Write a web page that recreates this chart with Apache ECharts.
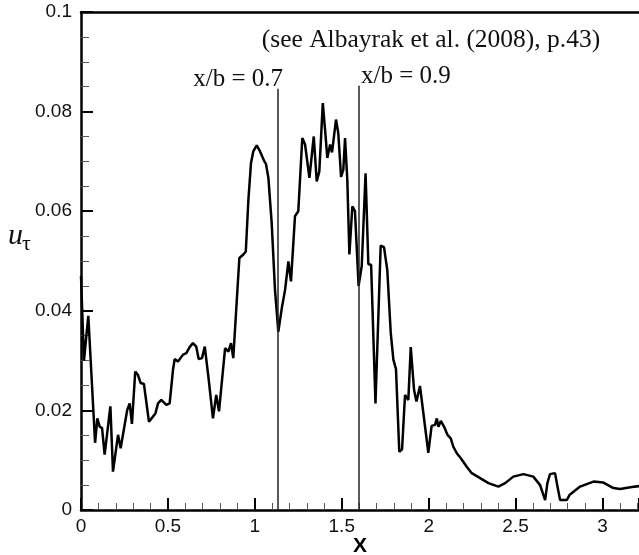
<!DOCTYPE html>
<html>
<head>
<meta charset="utf-8">
<script src="https://cdn.jsdelivr.net/npm/echarts@6/dist/echarts.min.js"></script>
<style>
html, body { margin: 0; padding: 0; background: #fff; }
#main { width: 639px; height: 555px; }
</style>
</head>
<body>
<div id="main"></div>
<script>
// wall shear velocity along the span
var xPos = [0.000, 0.017, 0.042, 0.081, 0.094, 0.108, 0.121, 0.136, 0.169, 0.184,
	0.213, 0.228, 0.266, 0.280, 0.293, 0.312, 0.328, 0.343, 0.362, 0.391,
	0.428, 0.443, 0.462, 0.491, 0.510, 0.529, 0.539, 0.558, 0.587, 0.606,
	0.625, 0.644, 0.663, 0.677, 0.696, 0.712, 0.735, 0.759, 0.778, 0.794,
	0.829, 0.848, 0.863, 0.876, 0.911, 0.934, 0.948, 0.963, 0.978, 0.991,
	1.011, 1.030, 1.055, 1.064, 1.078, 1.097, 1.116, 1.135, 1.155, 1.174,
	1.193, 1.208, 1.231, 1.250, 1.273, 1.289, 1.314, 1.339, 1.356, 1.371,
	1.391, 1.404, 1.417, 1.433, 1.444, 1.467, 1.480, 1.496, 1.509, 1.519,
	1.532, 1.544, 1.561, 1.576, 1.597, 1.615, 1.637, 1.653, 1.669, 1.694,
	1.724, 1.743, 1.762, 1.782, 1.797, 1.812, 1.831, 1.847, 1.864, 1.883,
	1.897, 1.916, 1.930, 1.950, 1.998, 2.017, 2.037, 2.047, 2.056, 2.070,
	2.089, 2.108, 2.127, 2.142, 2.162, 2.185, 2.219, 2.248, 2.296, 2.344,
	2.401, 2.440, 2.487, 2.545, 2.602, 2.641, 2.670, 2.683, 2.698, 2.727,
	2.741, 2.756, 2.795, 2.810, 2.871, 2.948, 3.005, 3.063, 3.101, 3.169,
	3.211, 3.260];
var uTau = [0.0470, 0.0300, 0.0390, 0.0135, 0.0184, 0.0167, 0.0165, 0.0111, 0.0208, 0.0077,
	0.0151, 0.0124, 0.0201, 0.0214, 0.0173, 0.0278, 0.0271, 0.0255, 0.0253, 0.0177,
	0.0194, 0.0214, 0.0221, 0.0211, 0.0214, 0.0281, 0.0303, 0.0298, 0.0312, 0.0315,
	0.0327, 0.0335, 0.0328, 0.0303, 0.0305, 0.0328, 0.0261, 0.0184, 0.0231, 0.0198,
	0.0325, 0.0318, 0.0335, 0.0305, 0.0506, 0.0513, 0.0519, 0.0623, 0.0697, 0.0720,
	0.0732, 0.0720, 0.0700, 0.0695, 0.0667, 0.0576, 0.0442, 0.0358, 0.0405, 0.0442,
	0.0499, 0.0459, 0.0590, 0.0600, 0.0747, 0.0734, 0.0667, 0.0750, 0.0660, 0.0680,
	0.0817, 0.0764, 0.0707, 0.0734, 0.0718, 0.0784, 0.0757, 0.0669, 0.0683, 0.0747,
	0.0663, 0.0513, 0.0610, 0.0600, 0.0450, 0.0490, 0.0676, 0.0494, 0.0492, 0.0214,
	0.0531, 0.0528, 0.0482, 0.0355, 0.0302, 0.0283, 0.0117, 0.0122, 0.0231, 0.0221,
	0.0327, 0.0241, 0.0218, 0.0249, 0.0115, 0.0169, 0.0171, 0.0184, 0.0167, 0.0179,
	0.0167, 0.0151, 0.0144, 0.0127, 0.0114, 0.0104, 0.0087, 0.0074, 0.0064, 0.0054,
	0.0047, 0.0054, 0.0067, 0.0072, 0.0067, 0.0050, 0.0020, 0.0054, 0.0072, 0.0074,
	0.0047, 0.0020, 0.0020, 0.0030, 0.0047, 0.0057, 0.0055, 0.0044, 0.0042, 0.0046,
	0.0048, 0.0050];

// stations x/b = 0.7 and 0.9
var stationX = [1.130, 1.596];
var stationTop = [0.0846, 0.0852];
var stationNames = ['x/b = 0.7', 'x/b = 0.9'];

var xMin = 0, xMax = 3.21;
var yMin = 0, yMax = 0.1;

var sans = '"Liberation Sans", Arial, sans-serif';
var serif = '"Liberation Serif", "Times New Roman", serif';

var curve = xPos.map(function(x, i) {
	return [x, uTau[i]];
});

var stationLines = stationX.map(function(x, i) {
	return [{ coord: [x, 0] }, { coord: [x, stationTop[i]] }];
});

var option = {
	animation: false,
	backgroundColor: '#fff',
	grid: {
		left: 81,
		right: 0,
		top: 12,
		bottom: 45,
		containLabel: false,
		outerBoundsMode: 'none'
	},
	xAxis: [{
		type: 'value',
		min: xMin,
		max: xMax,
		interval: 0.5,
		name: 'X',
		nameLocation: 'middle',
		nameGap: 26,
		nameMoveOverlap: false,
		nameTextStyle: { fontFamily: sans, fontWeight: 'bold', fontSize: 21, color: '#000' },
		axisLine: { show: true, onZero: false, lineStyle: { color: '#000', width: 2.5 } },
		axisTick: { show: true, inside: true, length: 12, lineStyle: { color: '#000', width: 2 } },
		minorTick: { show: true, splitNumber: 5, length: 7, lineStyle: { color: '#555', width: 1 } },
		axisLabel: { show: true, showMaxLabel: false, margin: 7, fontFamily: sans, fontSize: 19, color: '#111' },
		splitLine: { show: false }
	}, {
		type: 'value',
		position: 'top',
		min: xMin,
		max: xMax,
		axisLine: { show: true, onZero: false, lineStyle: { color: '#000', width: 2.5 } },
		axisTick: { show: false },
		axisLabel: { show: false },
		splitLine: { show: false }
	}],
	yAxis: {
		type: 'value',
		min: yMin,
		max: yMax,
		interval: 0.02,
		axisLine: { show: true, onZero: false, lineStyle: { color: '#000', width: 2.5 } },
		axisTick: { show: true, inside: true, length: 12, lineStyle: { color: '#000', width: 2 } },
		minorTick: { show: true, splitNumber: 4, length: 8, lineStyle: { color: '#555', width: 1 } },
		axisLabel: { margin: 9, fontFamily: sans, fontSize: 19, color: '#111' },
		splitLine: { show: false }
	},
	series: [{
		type: 'line',
		data: curve,
		showSymbol: false,
		symbol: 'none',
		clip: true,
		lineStyle: { color: '#000', width: 2.5 },
		markLine: {
			silent: true,
			symbol: 'none',
			label: { show: false },
			lineStyle: { color: '#222', width: 1.5, type: 'solid' },
			data: stationLines
		}
	}],
	graphic: [{
		type: 'text',
		style: { text: '(see Albayrak et al. (2008), p.43)', x: 431, y: 53, align: 'center', verticalAlign: 'bottom', font: '25.5px ' + serif, fill: '#111' }
	}, {
		type: 'text',
		style: { text: stationNames[0], x: 283, y: 92, align: 'right', verticalAlign: 'bottom', font: '25px ' + serif, fill: '#111' }
	}, {
		type: 'text',
		style: { text: stationNames[1], x: 361, y: 89, align: 'left', verticalAlign: 'bottom', font: '25px ' + serif, fill: '#111' }
	}, {
		type: 'text',
		style: { text: 'u', x: 8, y: 251, align: 'left', verticalAlign: 'bottom', font: 'italic 30px ' + serif, fill: '#111' }
	}, {
		type: 'text',
		style: { text: 'τ', x: 22, y: 255, align: 'left', verticalAlign: 'bottom', font: '22px ' + serif, fill: '#111' }
	}]
};

var myChart = echarts.init(document.getElementById('main'));
myChart.setOption(option);
</script>
</body>
</html>
